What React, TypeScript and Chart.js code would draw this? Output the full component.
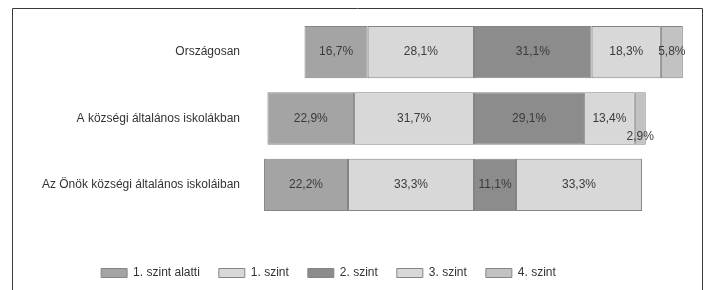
import React, { useEffect, useRef } from "react";
import { Chart, registerables } from "chart.js";

Chart.register(...registerables);

const categories = [
  "Országosan",
  "A községi általános iskolákban",
  "Az Önök községi általános iskoláiban",
];
const seriesNames = ["1. szint alatti", "1. szint", "2. szint", "3. szint", "4. szint"];
const belowLevel1 = [16.7, 22.9, 22.2];
const level1 = [28.1, 31.7, 33.3];
const level2 = [31.1, 29.1, 11.1];
const level3 = [18.3, 13.4, 33.3];
const level4 = [5.8, 2.9, 0];
const seriesColors = ["#a4a4a4", "#d8d8d8", "#8c8c8c", "#d8d8d8", "#c2c2c2"];

const FONT = "'Liberation Sans', Arial, sans-serif";

export default function App() {
  const ref = useRef<HTMLCanvasElement | null>(null);

  useEffect(() => {
    if (!ref.current) return;
    const series = [belowLevel1, level1, level2, level3, level4];
    // diverging: the boundary between "1. szint" and "2. szint" is at 0
    const starts = categories.map((_, j) => -(belowLevel1[j] + level1[j]));
    const cum = starts.slice();
    const datasets = series.map((vals, i) => {
      const data = vals.map((v, j) => {
        const s = cum[j];
        cum[j] += v;
        return v > 0 ? [s, s + v] : null;
      });
      return {
        label: seriesNames[i],
        data,
        raw: vals,
        backgroundColor: seriesColors[i],
        borderColor: "#858585",
        borderWidth: 1,
        borderSkipped: false,
        grouped: false,
        categoryPercentage: 1,
        barPercentage: 0.79,
      } as any;
    });

    const framePlugin = {
      id: "frame",
      beforeDraw(chart: any) {
        const ctx = chart.ctx;
        ctx.save();
        ctx.fillStyle = "#ffffff";
        ctx.fillRect(0, 0, chart.width, chart.height);
        ctx.strokeStyle = "#3a3a3a";
        ctx.lineWidth = 1;
        ctx.beginPath();
        ctx.moveTo(12.5, 300);
        ctx.lineTo(12.5, 8.5);
        ctx.lineTo(702.5, 8.5);
        ctx.lineTo(702.5, 300);
        ctx.stroke();
        ctx.restore();
      },
    };

    const labelsPlugin = {
      id: "valueLabels",
      afterDatasetsDraw(chart: any) {
        const ctx = chart.ctx;
        ctx.save();
        ctx.font = `12px ${FONT}`;
        ctx.fillStyle = "#3a3a3a";
        ctx.textAlign = "center";
        ctx.textBaseline = "middle";
        chart.data.datasets.forEach((ds: any, i: number) => {
          const meta = chart.getDatasetMeta(i);
          meta.data.forEach((el: any, j: number) => {
            const v = ds.raw[j];
            if (!v) return;
            const txt = v.toFixed(1).replace(".", ",") + "%";
            const yOff = v < 3 ? 18 : 0;
            ctx.fillText(txt, el.x - (el.x - el.base) / 2, el.y + yOff);
          });
        });
        ctx.restore();
      },
    };

    const legendShift = {
      id: "legendShift",
      afterLayout(chart: any) {
        const lg = chart.legend;
        if (lg) {
          lg.left -= 22;
          lg.right -= 22;
        }
      },
    };

    const chart = new Chart(ref.current, {
      type: "bar",
      data: { labels: categories, datasets },
      plugins: [framePlugin, labelsPlugin, legendShift],
      options: {
        responsive: false,
        animation: false,
        indexAxis: "y",
        layout: { padding: { top: 19, right: 6, bottom: 1, left: 0 } },
        scales: {
          x: {
            min: -60,
            max: 60,
            grid: { display: false, drawTicks: false },
            border: { display: false },
            ticks: { display: false },
            afterFit: (s: any) => {
              s.height = 30;
            },
          },
          y: {
            grid: { display: false, drawTicks: false },
            border: { display: false },
            ticks: {
              padding: 7,
              color: "#333333",
              font: { family: FONT, size: 12 },
            },
            afterFit: (s: any) => {
              s.width = 247;
            },
          },
        },
        plugins: {
          tooltip: { enabled: false },
          legend: {
            position: "bottom",
            labels: {
              boxWidth: 26,
              boxHeight: 9,
              padding: 19,
              color: "#333333",
              font: { family: FONT, size: 12 },
            },
          },
        },
      },
    } as any);
    return () => chart.destroy();
  }, []);

  return (
    <div style={{ position: "absolute", left: 0, top: 0, width: 707, height: 290 }}>
      <canvas ref={ref} width={707} height={290} style={{ display: "block" }} />
    </div>
  );
}
